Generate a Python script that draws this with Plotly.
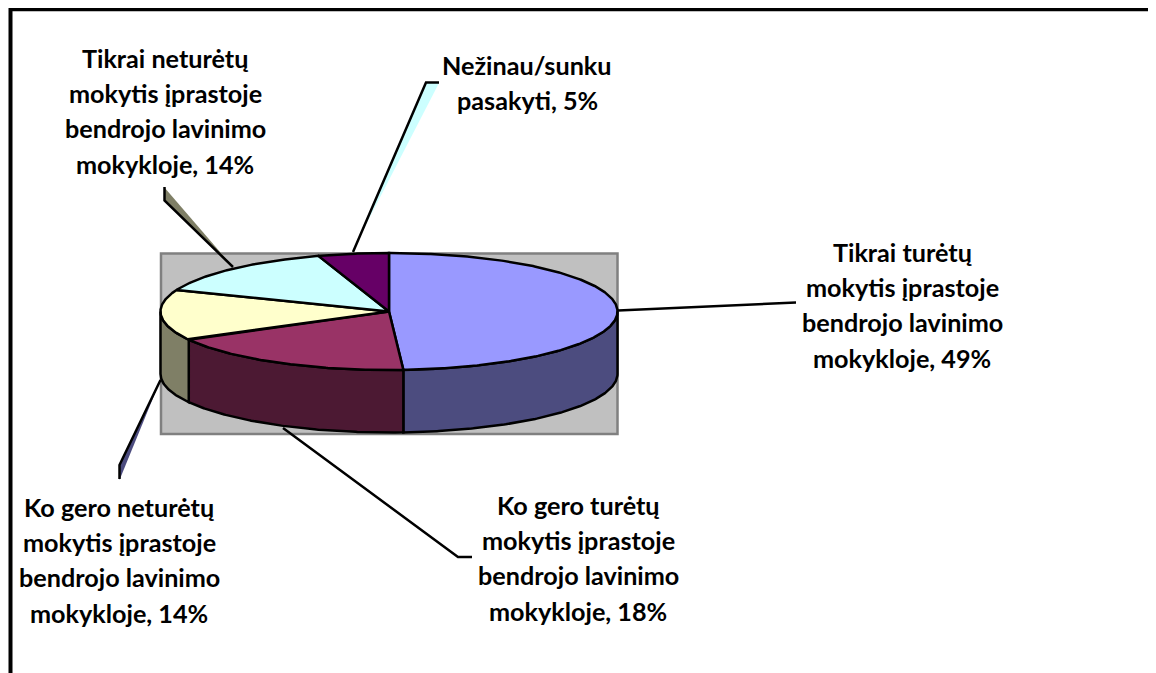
import numpy as np
import plotly.graph_objects as go

# ---- data -------------------------------------------------------------
categories = [
    "Tikrai turėtų mokytis įprastoje bendrojo lavinimo mokykloje",
    "Ko gero turėtų mokytis įprastoje bendrojo lavinimo mokykloje",
    "Ko gero neturėtų mokytis įprastoje bendrojo lavinimo mokykloje",
    "Tikrai neturėtų mokytis įprastoje bendrojo lavinimo mokykloje",
    "Nežinau/sunku pasakyti",
]
shares = [49, 18, 14, 14, 5]
top_colors = ["#9999FF", "#993366", "#FFFFCC", "#CCFFFF", "#660066"]
side_colors = ["#4C4C7F", "#4C1933", "#7F7F66", "#667F7F", "#330033"]
label_lines = [
    ["Tikrai turėtų", "mokytis įprastoje", "bendrojo lavinimo", "mokykloje, 49%"],
    ["Ko gero turėtų", "mokytis įprastoje", "bendrojo lavinimo", "mokykloje, 18%"],
    ["Ko gero neturėtų", "mokytis įprastoje", "bendrojo lavinimo", "mokykloje, 14%"],
    ["Tikrai neturėtų", "mokytis įprastoje", "bendrojo lavinimo", "mokykloje, 14%"],
    ["Nežinau/sunku", "pasakyti, 5%"],
]

# ---- layout constants (pixel space) ------------------------------------
PAGE_W, PAGE_H = 1156, 673
BODY = 8  # default page margin of the browser
CX, CY, RX, RY, DEPTH = 389.0, 311.5, 228.5, 58.5, 62.5
label_pos = [(902, 252), (578, 505), (119, 507), (165, 58), (527, 65)]
LINE_STEP = 35.2
FONT = "Lato"
FONT_SIZE = 25.2
EDGE = 2.5


def ellipse(t_deg, dy=0.0):
    t = np.radians(t_deg)
    return CX + RX * np.sin(t), CY - RY * np.cos(t) + dy


def rng(a, b):
    n = max(2, int(abs(b - a) * 2) + 1)
    return np.linspace(a, b, n)


edges = np.concatenate([[0], np.cumsum(shares)]) * 3.6

fig = go.Figure()

# side walls (only the front half, 90..270 degrees, is visible)
for i in range(len(shares)):
    a, b = max(edges[i], 90), min(edges[i + 1], 270)
    if b <= a:
        continue
    ts = rng(a, b)
    x1, y1 = ellipse(ts)
    x2, y2 = ellipse(ts[::-1], DEPTH)
    fig.add_trace(go.Scatter(
        x=np.r_[x1, x2, x1[0]], y=np.r_[y1, y2, y1[0]],
        mode="lines", fill="toself", fillcolor=side_colors[i],
        line=dict(color="black", width=EDGE), hoverinfo="skip", showlegend=False))

# top faces
for i in range(len(shares)):
    ts = rng(edges[i], edges[i + 1])
    x, y = ellipse(ts)
    fig.add_trace(go.Scatter(
        x=np.r_[CX, x, CX], y=np.r_[CY, y, CY],
        mode="lines", fill="toself", fillcolor=top_colors[i],
        line=dict(color="black", width=EDGE), name=categories[i],
        hoverinfo="name", showlegend=False))

# data labels, one real text per line to keep the wide line pitch
annotations = []
for lines, (lx, ly) in zip(label_lines, label_pos):
    for k, txt in enumerate(lines):
        annotations.append(dict(
            x=lx, y=ly + k * LINE_STEP, xref="x", yref="y", text=f"<b>{txt}</b>",
            showarrow=False, xanchor="center", yanchor="middle",
            font=dict(family=FONT, size=FONT_SIZE, color="#000000")))


def path(points, close=False):
    s = "M " + " L ".join(f"{px},{py}" for px, py in points)
    return s + (" Z" if close else "")


shapes = [
    # plot-area rectangle behind the pie
    dict(type="rect", x0=161, y0=253.5, x1=617.5, y1=434, fillcolor="#C0C0C0",
         line=dict(color="#808080", width=2.5), layer="below"),
    # chart frame: top and left edges
    dict(type="path", path=path([(10.5, PAGE_H + 5), (10.5, 9.2), (PAGE_W + 5, 9.2)]),
         line=dict(color="black", width=4), layer="below"),
]
# leader-line wedges
wedges = [
    ([(164, 187), (164, 200), (233, 267)], "#7F7F66"),
    ([(426, 83), (439, 83), (358, 240)], "#CCFFFF"),
    ([(160, 381), (119.5, 466), (119.5, 480)], "#4C4C7F"),
]
for pts, col in wedges:
    shapes.append(dict(type="path", path=path(pts, True), fillcolor=col,
                       line=dict(width=0), layer="below"))
# leader lines
leaders = [
    [(618, 310.5), (796, 302.5)],
    [(283, 428), (458, 557), (472, 557)],
    [(160.5, 380), (119.5, 465), (119.5, 479)],
    [(233, 267), (164.5, 200.5), (164.5, 187)],
    [(353, 252), (426, 82.5), (439, 82.5)],
]
for pts in leaders:
    shapes.append(dict(type="path", path=path(pts),
                       line=dict(color="black", width=EDGE), layer="below"))

fig.update_layout(
    width=PAGE_W - BODY, height=PAGE_H - BODY, autosize=False,
    margin=dict(l=0, r=0, t=0, b=0),
    paper_bgcolor="white", plot_bgcolor="white",
    xaxis=dict(range=[BODY, PAGE_W], visible=False, fixedrange=True),
    yaxis=dict(range=[PAGE_H, BODY], visible=False, fixedrange=True),
    shapes=shapes, annotations=annotations, showlegend=False,
)
fig.write_html("out.html", config={"displayModeBar": False, "responsive": False})
